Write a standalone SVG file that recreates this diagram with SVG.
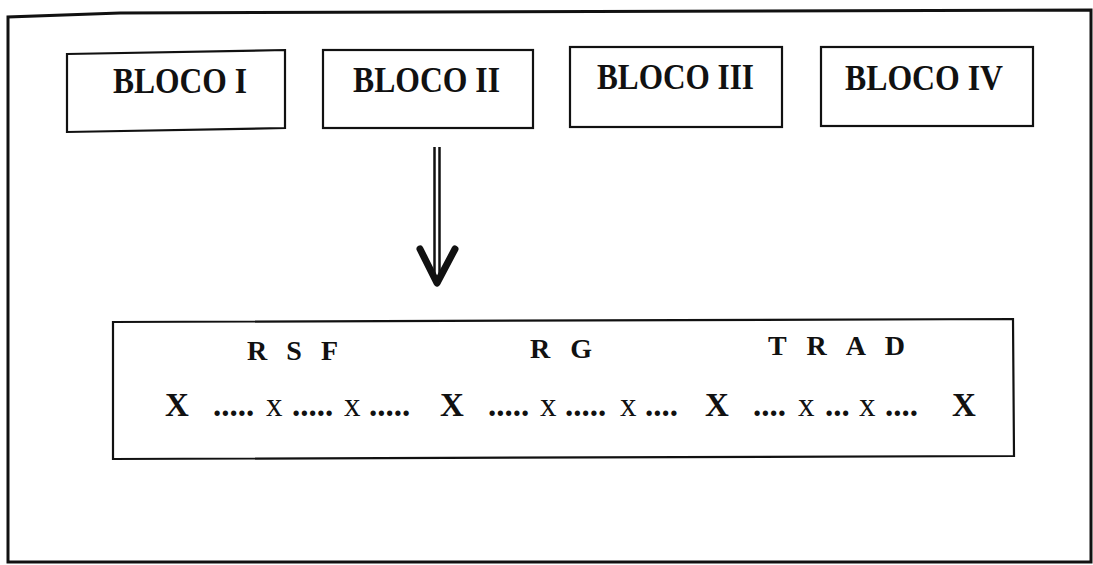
<svg xmlns="http://www.w3.org/2000/svg" width="1093" height="565" viewBox="0 0 1093 565">
<style>
  .frame{fill:none;stroke:#111;stroke-width:3}
  .box{fill:#fff;stroke:#111;stroke-width:2.2}
  .lbl{font-family:"Liberation Serif","Times New Roman",serif;font-weight:bold;font-size:36px;fill:#111}
  .hdr{font-family:"Liberation Serif","Times New Roman",serif;font-weight:bold;font-size:28px;fill:#111}
  .row{font-family:"Liberation Serif","Times New Roman",serif;font-size:33px;fill:#111}
  .big{font-weight:bold}
  .dot{font-weight:bold}
  .conn{fill:none;stroke:#111}
</style>
<rect width="1093" height="565" fill="#fff"/>
<path class="frame" d="M8,562 L8,17 L120,13 L1091,10 L1091,562 Z"/>

<g id="bloco1">
  <path class="box" d="M67,54 L285,50 L285,128 L67,132 Z"/>
  <text class="lbl" x="113" y="93" textLength="134" lengthAdjust="spacingAndGlyphs">BLOCO I</text>
</g>
<g id="bloco2">
  <rect class="box" x="323" y="50" width="210" height="78"/>
  <text class="lbl" x="353" y="92" textLength="147" lengthAdjust="spacingAndGlyphs">BLOCO II</text>
</g>
<g id="bloco3">
  <rect class="box" x="570" y="47" width="212" height="80"/>
  <text class="lbl" x="597" y="89" textLength="157" lengthAdjust="spacingAndGlyphs">BLOCO III</text>
</g>
<g id="bloco4">
  <rect class="box" x="821" y="47" width="212" height="79"/>
  <text class="lbl" x="845" y="90" textLength="158" lengthAdjust="spacingAndGlyphs">BLOCO IV</text>
</g>

<g id="connectors">
  <line class="conn" x1="434.5" y1="147" x2="434.5" y2="282" stroke-width="2.5"/>
  <line class="conn" x1="439.5" y1="147" x2="439.5" y2="282" stroke-width="2.5"/>
  <polyline class="conn" points="420,249 437,283 455,249" stroke-width="7" stroke-linecap="round" stroke-linejoin="round"/>
</g>

<g id="escala">
  <path class="box" d="M113,322 L1013,319 L1014,456 L113,459 Z"/>
  <text class="hdr" x="247" y="360" textLength="91" lengthAdjust="spacing">R S F</text>
  <text class="hdr" x="530" y="358" textLength="62" lengthAdjust="spacing">R G</text>
  <text class="hdr" x="768" y="355" textLength="137" lengthAdjust="spacing">T R A D</text>
  <text class="row" y="416">
    <tspan class="big" x="165">X</tspan>
    <tspan class="dot" x="213">.....</tspan>
    <tspan x="266">x</tspan>
    <tspan class="dot" x="292">.....</tspan>
    <tspan x="344">x</tspan>
    <tspan class="dot" x="369">.....</tspan>
    <tspan class="big" x="440">X</tspan>
    <tspan class="dot" x="488">.....</tspan>
    <tspan x="540">x</tspan>
    <tspan class="dot" x="565">.....</tspan>
    <tspan x="620">x</tspan>
    <tspan class="dot" x="645">....</tspan>
    <tspan class="big" x="705">X</tspan>
    <tspan class="dot" x="753">....</tspan>
    <tspan x="798">x</tspan>
    <tspan class="dot" x="825">...</tspan>
    <tspan x="859">x</tspan>
    <tspan class="dot" x="885">....</tspan>
    <tspan class="big" x="952">X</tspan>
  </text>
</g>
</svg>
